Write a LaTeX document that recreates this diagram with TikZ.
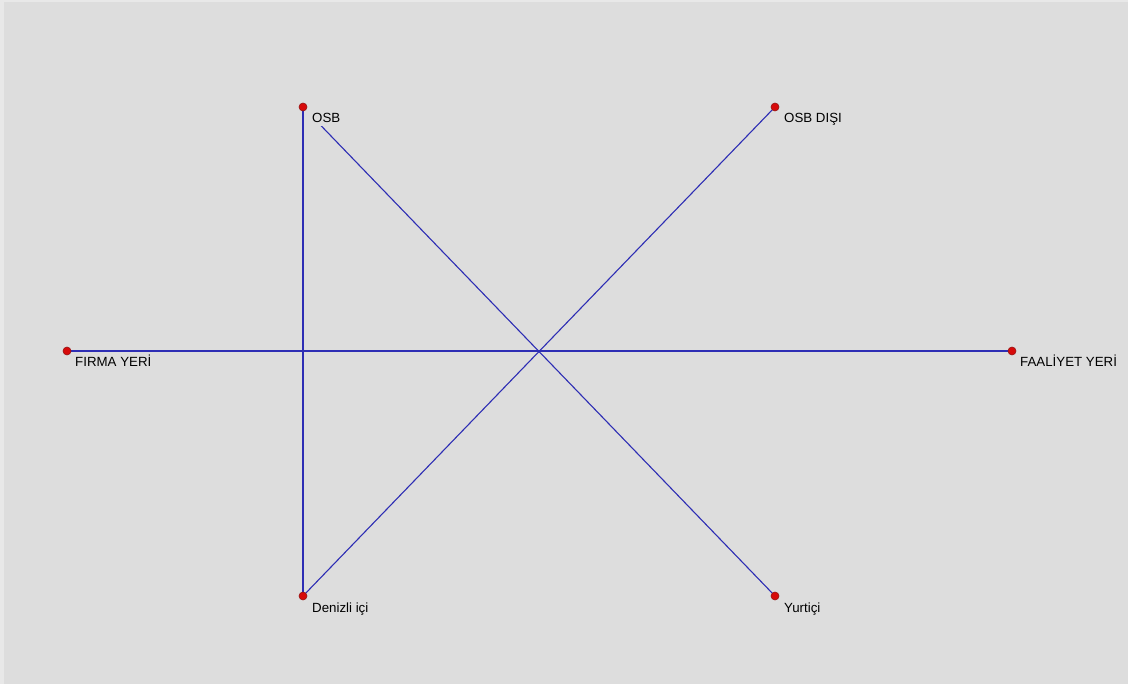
\documentclass[tikz,border=0pt]{standalone}
\usepackage{fontspec}
\setmainfont{Liberation Sans}
\definecolor{bgcol}{RGB}{221,221,221}
\definecolor{bordercol}{RGB}{232,232,232}
\definecolor{linecol}{RGB}{45,45,180}
\definecolor{dotfill}{RGB}{215,10,10}
\definecolor{dotdraw}{RGB}{150,20,20}
\pgfdeclarelayer{bglayer}
\pgfdeclarelayer{linelayer}
\pgfsetlayers{bglayer,linelayer,main}
\tikzset{
  dot/.style={circle,fill=dotfill,draw=dotdraw,line width=0.6pt,inner sep=0pt,minimum size=8pt},
  lbl/.style={anchor=base west,inner sep=1pt,font=\fontsize{13.3}{15}\selectfont,text=black},
  conn/.style={draw=linecol,line width=1.1pt}
}
\begin{document}
\begin{tikzpicture}[x=1pt,y=-1pt]
\begin{pgfonlayer}{bglayer}
  \fill[bordercol] (0,0) rectangle (1128,684);
  \fill[bgcol] (4,2) rectangle (1128,684);
\end{pgfonlayer}
\useasboundingbox (0,0) rectangle (1128,684);
% labels
\node[lbl] (tosb) at (311,123) {OSB};
\node[lbl] (tosbd) at (783,123) {OSB DIŞI};
\node[lbl] (tfirma) at (74,367) {FIRMA YERİ};
\node[lbl] (tfaal) at (1019,367) {FAALİYET YERİ};
\node[lbl] (tden) at (311,612) {Denizli içi};
\node[lbl] (tyurt) at (783,612) {Yurtiçi};
% dots
\node[dot] (osb) at (303,107) {};
\node[dot] (osbd) at (775,107) {};
\node[dot] (firma) at (67,351) {};
\node[dot] (faal) at (1012,351) {};
\node[dot] (den) at (303,596) {};
\node[dot] (yurt) at (775,596) {};
% connectors
\begin{pgfonlayer}{linelayer}
  \draw[conn] (osb.center) -- (den.center);
  \draw[conn] (osb.center) -- (yurt.center);
  \draw[conn] (den.center) -- (osbd.center);
  \draw[conn] (firma.center) -- (faal.center);
  % the OSB label box hides the start of the OSB--Yurtici line
  \fill[bgcol] (305,108) rectangle (342,126);
\end{pgfonlayer}
\end{tikzpicture}
\end{document}
